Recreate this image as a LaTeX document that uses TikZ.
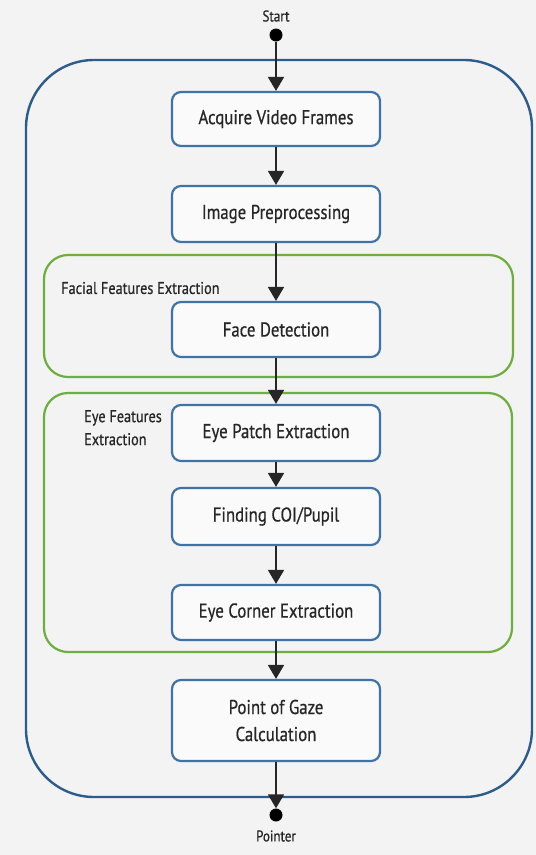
\documentclass[tikz,border=0pt]{standalone}
\usepackage{fontspec}
\setmainfont[FakeStretch=0.84,FakeBold=0.6]{PT Sans}
\usetikzlibrary{arrows.meta,positioning}
\definecolor{bgc}{HTML}{F3F3F3}
\definecolor{outerblue}{HTML}{2E5C8A}
\definecolor{boxblue}{HTML}{3F73A8}
\definecolor{grpgreen}{HTML}{6DAE3F}
\definecolor{txt}{HTML}{262626}
\begin{document}
\begin{tikzpicture}[x=1pt,y=-1pt,
  stepbox/.style={draw=boxblue,line width=2.2pt,rounded corners=9pt,fill=white!60!bgc,text=txt,
    minimum width=208pt,inner sep=0pt,align=center,font=\fontsize{20}{24}\selectfont},
  grp/.style={draw=grpgreen,line width=2.2pt,rounded corners=24pt},
  flow/.style={-{Triangle[width=16pt,length=14pt]},line width=1.8pt,black!85},
  lbl/.style={font=\fontsize{17}{23}\selectfont,inner sep=0pt,align=left,text=txt},
  endlbl/.style={font=\fontsize{15.5}{18}\selectfont,inner sep=0pt,text=txt}]
\useasboundingbox (0,0) rectangle (536,855);
\fill[bgc] (0,0) rectangle (536,855);
% outer frame
\draw[outerblue,line width=2.4pt,rounded corners=68pt] (26,60) rectangle (532,797);
% groups
\draw[grp] (44,255) rectangle (513,377);
\draw[grp] (44,393) rectangle (512,652);
\node[lbl,anchor=west] (gl1) at (61,288) {Facial Features Extraction};
\node[lbl,anchor=north west] (gl2) at (84,410) {Eye Features\\Extraction};
% start / end
\node[endlbl] (st) at (276,16) {Start};
\node[circle,fill=black,minimum size=13pt,inner sep=0pt] (sd) at (276,35) {};
\node[circle,fill=black,minimum size=13pt,inner sep=0pt] (ed) at (276,815) {};
\node[endlbl] (pt) at (276,836) {Pointer};
% steps
\node[stepbox,minimum height=54pt] (a) at (276,119) {Acquire Video Frames};
\node[stepbox,minimum height=56pt] (b) at (276,214) {Image Preprocessing};
\node[stepbox,minimum height=55pt] (c) at (276,329.5) {Face Detection};
\node[stepbox,minimum height=56pt] (d) at (276,433) {Eye Patch Extraction};
\node[stepbox,minimum height=57pt] (e) at (276,516.5) {Finding COI/Pupil};
\node[stepbox,minimum height=55pt] (f) at (276,612.5) {Eye Corner Extraction};
\node[stepbox,minimum height=81pt] (g) at (276,720.5) {Point of Gaze\\[3pt]Calculation};
% connectors
\draw[flow] (sd) -- (a);
\draw[flow] (a) -- (b);
\draw[flow] (b) -- (c);
\draw[flow] (c) -- (d);
\draw[flow] (d) -- (e);
\draw[flow] (e) -- (f);
\draw[flow] (f) -- (g);
\draw[flow] (g) -- (ed.north);
\end{tikzpicture}
\end{document}
